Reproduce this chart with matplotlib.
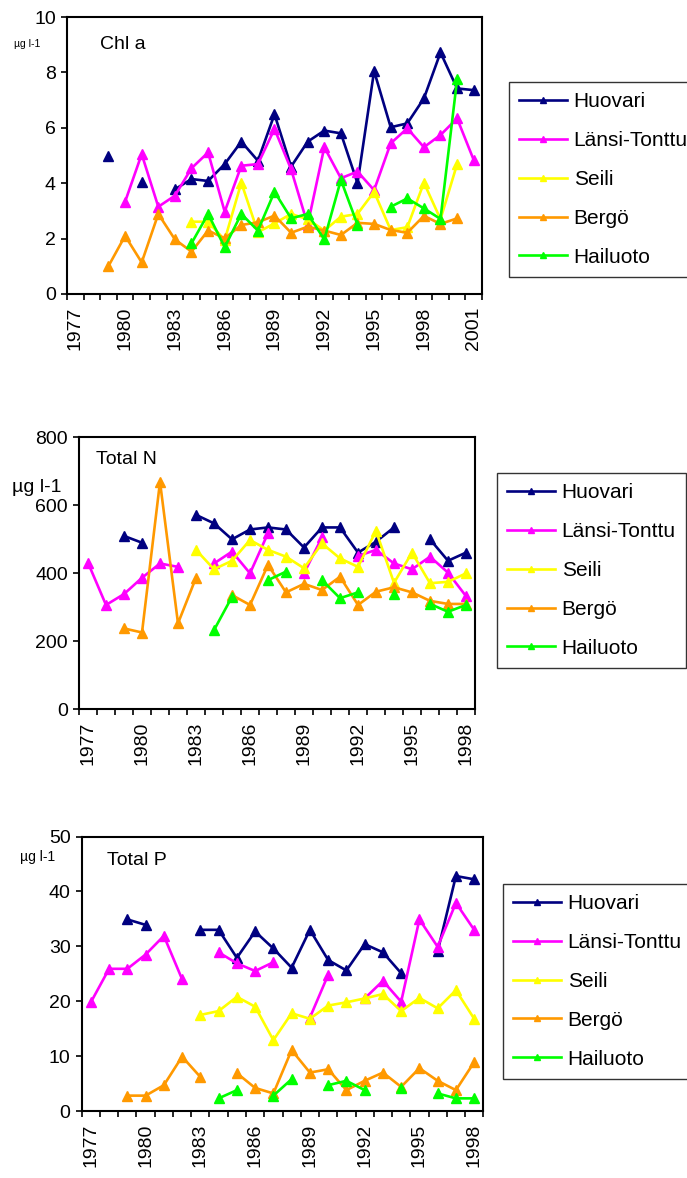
import numpy as np
import matplotlib
matplotlib.use('Agg')
import matplotlib.pyplot as plt

plt.rcParams['font.family'] = ['Liberation Sans', 'DejaVu Sans']

nan = np.nan

stations = ['Huovari', 'Länsi-Tonttu', 'Seili', 'Bergö', 'Hailuoto']
colors = ['#000080', '#FF00FF', '#FFFF00', '#FF9900', '#00FF00']

# Chlorophyll a, 1977-2001
chl_years = list(range(1977, 2002))
chl_huovari = [nan, nan, 5.0, nan, 4.05, nan, 3.78, 4.15, 4.08, 4.69, 5.5, 4.81, 6.49,
               4.6, 5.5, 5.9, 5.8, 4.0, 8.05, 6.02, 6.16, 7.06, 8.72, 7.42, 7.36]
chl_lansi = [nan, nan, nan, 3.33, 5.05, 3.15, 3.55, 4.54, 5.11, 2.97, 4.63, 4.69, 5.96,
             4.5, 2.5, 5.3, 4.18, 4.42, 3.75, 5.44, 5.98, 5.3, 5.74, 6.34, 4.84]
chl_seili = [nan, nan, nan, nan, nan, nan, nan, 2.61, 2.61, 1.95, 4.02, 2.23, 2.55,
             2.89, 2.7, 2.29, 2.79, 2.89, 3.69, 2.31, 2.41, 4.02, 2.7, 4.69, nan]
chl_bergo = [nan, nan, 1.01, 2.1, 1.14, 2.89, 1.97, 1.53, 2.29, 2.01, 2.49, 2.59, 2.83,
             2.21, 2.43, 2.29, 2.13, 2.57, 2.53, 2.31, 2.21, 2.82, 2.53, 2.73, nan]
chl_hailuoto = [nan, nan, nan, nan, nan, nan, nan, 1.83, 2.89, 1.69, 2.89, 2.29, 3.69,
                2.73, 2.89, 1.97, 4.12, 2.5, nan, 3.15, 3.45, 3.09, 2.71, 7.75, nan]

# Total N, 1977-1998
totn_years = list(range(1977, 1999))
totn_huovari = [nan, nan, 509, 489, nan, nan, 571, 546, 499, 528, 534,
                528, 475, 534, 534, 460, 492, 534, nan, 499, 436, 460]
totn_lansi = [430, 306, 338, 386, 428, 418, nan, 428, 463, 399, 517,
              nan, 399, 505, nan, 450, 468, 428, 411, 448, 401, 332]
totn_seili = [nan, nan, nan, nan, nan, nan, 468, 411, 436, 497, 468,
              448, 414, 487, 443, 418, 524, 371, 460, 370, 374, 399]
totn_bergo = [nan, nan, 237, 225, 668, 252, 386, nan, 335, 306, 424,
              343, 368, 350, 389, 306, 345, 358, 343, 318, 309, 309]
totn_hailuoto = [nan, nan, nan, nan, nan, nan, nan, 232, 330, nan, 379,
                 404, nan, 379, 326, 343, nan, 338, nan, 309, 286, 306]

# Total P, 1977-1998
totp_years = list(range(1977, 1999))
totp_huovari = [nan, nan, 34.9, 33.9, nan, nan, 33.0, 33.0, 27.9, 32.7, 29.6,
                26.1, 33.0, 27.5, 25.6, 30.4, 28.9, 25.1, nan, 29.1, 42.8, 42.2]
totp_lansi = [19.8, 25.9, 25.9, 28.5, 31.9, 24.0, nan, 28.9, 26.9, 25.5, 27.1,
              nan, 17.0, 24.8, nan, 20.5, 23.7, 19.9, 34.9, 29.9, 37.9, 33.0]
totp_seili = [nan, nan, nan, nan, nan, nan, 17.5, 18.2, 20.8, 19.0, 12.9,
              17.8, 16.8, 19.2, 19.8, 20.5, 21.3, 18.2, 20.6, 18.7, 22.0, 16.8]
totp_bergo = [nan, nan, 2.8, 2.8, 4.7, 9.9, 6.2, nan, 6.9, 4.2, 3.2,
              11.1, 7.0, 7.6, 3.8, 5.5, 7.0, 4.4, 7.8, 5.5, 3.8, 8.9]
totp_hailuoto = [nan, nan, nan, nan, nan, nan, nan, 2.3, 3.8, nan, 2.8,
                 5.8, nan, 4.7, 5.5, 3.8, nan, 4.2, nan, 3.2, 2.3, 2.3]

W, H = 687, 1178
fig = plt.figure(figsize=(W / 100, H / 100), dpi=100)


def px_axes(x0, y0, x1, y1):
    # axes from pixel box (top-left origin)
    return fig.add_axes([x0 / W, 1 - y1 / H, (x1 - x0) / W, (y1 - y0) / H])


def draw_panel(ax, years, series, ymax, ystep, title, title_xy):
    for vals, name, c in zip(series, stations, colors):
        ax.plot(years, vals, color=c, lw=1.9, marker='^', ms=7.5,
                mfc=c, mec=c, label=name)
    ax.set_xlim(years[0] - 0.5, years[-1] + 0.5)
    ax.set_ylim(0, ymax)
    ax.set_yticks(np.arange(0, ymax + ystep / 2, ystep))
    ax.set_xticks(years[::3])
    ax.set_xticklabels([str(y) for y in years[::3]], rotation=90)
    ax.set_xticks(np.arange(years[0] - 0.5, years[-1] + 1), minor=True)
    ax.tick_params(axis='x', which='major', length=0, pad=9, labelsize=14)
    ax.tick_params(axis='x', which='minor', length=4.5, width=1.2, direction='out')
    ax.tick_params(axis='y', length=4.5, width=1.2, direction='out', labelsize=14)
    for s in ax.spines.values():
        s.set_linewidth(1.5)
    ax.text(title_xy[0], title_xy[1], title, transform=ax.transAxes,
            fontsize=14, ha='left', va='center')


def add_legend(ax, x, y):
    leg = ax.legend(loc='upper left', bbox_to_anchor=(x / W, 1 - y / H),
                    bbox_transform=fig.transFigure, fontsize=15, frameon=True,
                    fancybox=False, edgecolor='black', markerscale=0.6,
                    handlelength=2.3, handletextpad=0.3, labelspacing=0.95,
                    borderpad=0.5, borderaxespad=0)
    leg.get_frame().set_linewidth(1.0)


# Chl a
ax1 = px_axes(67, 17, 482, 294)
draw_panel(ax1, chl_years,
           [chl_huovari, chl_lansi, chl_seili, chl_bergo, chl_hailuoto],
           10, 2, 'Chl a', (0.08, 0.9))
add_legend(ax1, 509, 82)
fig.text(27 / W, 1 - 44 / H, 'µg l-1', fontsize=7.5, ha='center', va='center')

# Total N
ax2 = px_axes(79, 437, 475, 709)
draw_panel(ax2, totn_years,
           [totn_huovari, totn_lansi, totn_seili, totn_bergo, totn_hailuoto],
           800, 200, 'Total N', (0.043, 0.919))
add_legend(ax2, 497, 473)
fig.text(37 / W, 1 - 488 / H, 'µg l-1', fontsize=14, ha='center', va='center')

# Total P
ax3 = px_axes(81.7, 836.5, 483.3, 1111)
draw_panel(ax3, totp_years,
           [totp_huovari, totp_lansi, totp_seili, totp_bergo, totp_hailuoto],
           50, 10, 'Total P', (0.062, 0.911))
add_legend(ax3, 503, 884)
fig.text(38 / W, 1 - 857 / H, 'µg l-1', fontsize=10, ha='center', va='center')

fig.savefig('out.png', dpi=100)
